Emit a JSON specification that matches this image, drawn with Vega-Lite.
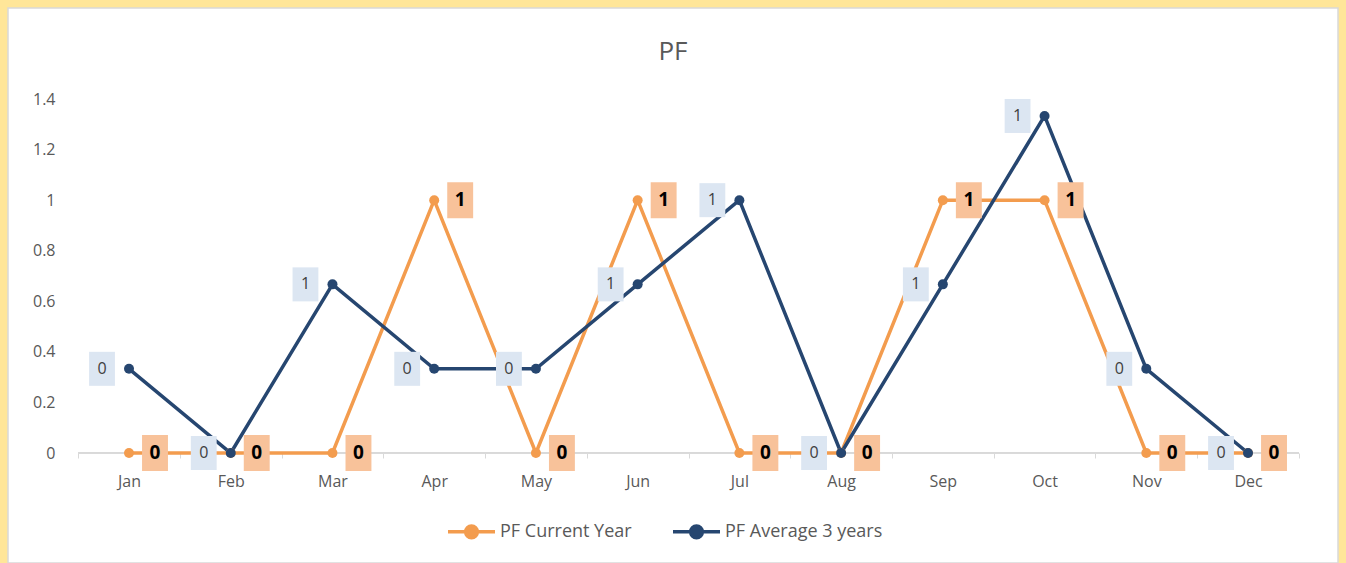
{
  "$schema": "https://vega.github.io/schema/vega-lite/v6.json",
  "width": 1330,
  "height": 555,
  "autosize": {"type": "none"},
  "padding": {"left": 8, "top": 8, "right": 8, "bottom": 0},
  "background": "#FFE699",
  "title": {"text": "PF", "fontSize": 26, "font": "Open Sans", "fontWeight": "normal", "color": "#595959", "anchor": "middle", "offset": -57},
  "config": {"view": {"fill": "white", "stroke": "#D9D9D9", "strokeWidth": 1.5}},
  "data": {"values": [
    {"month": "Jan", "series": "PF Current Year", "value": 0},
    {"month": "Feb", "series": "PF Current Year", "value": 0},
    {"month": "Mar", "series": "PF Current Year", "value": 0},
    {"month": "Apr", "series": "PF Current Year", "value": 1},
    {"month": "May", "series": "PF Current Year", "value": 0},
    {"month": "Jun", "series": "PF Current Year", "value": 1},
    {"month": "Jul", "series": "PF Current Year", "value": 0},
    {"month": "Aug", "series": "PF Current Year", "value": 0},
    {"month": "Sep", "series": "PF Current Year", "value": 1},
    {"month": "Oct", "series": "PF Current Year", "value": 1},
    {"month": "Nov", "series": "PF Current Year", "value": 0},
    {"month": "Dec", "series": "PF Current Year", "value": 0},
    {"month": "Jan", "series": "PF Average 3 years", "value": 0.333},
    {"month": "Feb", "series": "PF Average 3 years", "value": 0},
    {"month": "Mar", "series": "PF Average 3 years", "value": 0.667},
    {"month": "Apr", "series": "PF Average 3 years", "value": 0.333},
    {"month": "May", "series": "PF Average 3 years", "value": 0.333},
    {"month": "Jun", "series": "PF Average 3 years", "value": 0.667},
    {"month": "Jul", "series": "PF Average 3 years", "value": 1},
    {"month": "Aug", "series": "PF Average 3 years", "value": 0},
    {"month": "Sep", "series": "PF Average 3 years", "value": 0.667},
    {"month": "Oct", "series": "PF Average 3 years", "value": 1.333},
    {"month": "Nov", "series": "PF Average 3 years", "value": 0.333},
    {"month": "Dec", "series": "PF Average 3 years", "value": 0}
  ]},
  "encoding": {
    "x": {
      "field": "month", "type": "nominal",
      "sort": ["Jan","Feb","Mar","Apr","May","Jun","Jul","Aug","Sep","Oct","Nov","Dec"],
      "scale": {"type": "band", "paddingInner": 0, "paddingOuter": 0.537, "align": 0.642},
      "axis": {"title": null, "orient": "bottom", "offset": -110, "tickBand": "extent", "domain": false, "ticks": true, "tickColor": "#D9D9D9", "tickSize": 5, "labelColor": "#595959", "labelFont": "Open Sans", "labelFontSize": 16, "labelPadding": 15, "labelAngle": 0, "grid": false}
    },
    "y": {
      "field": "value", "type": "quantitative",
      "scale": {"domain": [-0.435, 1.76], "nice": false, "zero": false},
      "axis": {"title": null, "values": [0, 0.2, 0.4, 0.6, 0.8, 1, 1.2, 1.4], "offset": -51, "domain": false, "ticks": false, "grid": false, "labelColor": "#595959", "labelFont": "Open Sans", "labelFontSize": 16, "labelPadding": 4, "format": "~g"}
    }
  },
  "layer": [
    {
      "mark": {"type": "rule", "color": "#D9D9D9", "strokeWidth": 1},
      "encoding": {"x": {"datum": "Jan", "bandPosition": 0}, "x2": {"datum": "Dec", "bandPosition": 1}, "y": {"datum": 0}}
    },
    {
      "mark": {"type": "line", "strokeWidth": 3.5},
      "encoding": {
        "color": {"field": "series", "type": "nominal", "scale": {"domain": ["PF Current Year", "PF Average 3 years"], "range": ["#F39C4E", "#264670"]},
          "legend": {"title": null, "orient": "none", "legendX": 438, "legendY": 498, "direction": "horizontal", "symbolType": "M-1,0H1M-0.25,0A0.25,0.25,0,1,0,0.25,0A0.25,0.25,0,1,0,-0.25,0Z", "symbolSize": 2209, "symbolStrokeWidth": 3.5, "labelFont": "Open Sans", "labelFontSize": 18, "labelColor": "#595959", "columnPadding": 34, "labelOffset": 3,
            "encode": {"symbols": {"update": {"fill": {"scale": "color", "field": "value"}, "stroke": {"scale": "color", "field": "value"}, "strokeWidth": {"value": 3.5}, "opacity": {"value": 1}}}}}}
      }
    },
    {
      "mark": {"type": "point", "filled": true, "size": 100, "opacity": 1},
      "encoding": {
        "color": {"field": "series", "type": "nominal", "scale": {"domain": ["PF Current Year", "PF Average 3 years"], "range": ["#F39C4E", "#264670"]},
          "legend": {"title": null, "orient": "none", "legendX": 438, "legendY": 498, "direction": "horizontal", "symbolType": "M-1,0H1M-0.25,0A0.25,0.25,0,1,0,0.25,0A0.25,0.25,0,1,0,-0.25,0Z", "symbolSize": 2209, "symbolStrokeWidth": 3.5, "labelFont": "Open Sans", "labelFontSize": 18, "labelColor": "#595959", "columnPadding": 34, "labelOffset": 3,
            "encode": {"symbols": {"update": {"fill": {"scale": "color", "field": "value"}, "stroke": {"scale": "color", "field": "value"}, "strokeWidth": {"value": 3.5}, "opacity": {"value": 1}}}}}}
      }
    },
    {
      "transform": [{"filter": "datum.series === 'PF Current Year'"}],
      "mark": {"type": "point", "shape": "M-0.72,-1H0.72V1H-0.72Z", "size": 1296, "filled": true, "color": "#F8C29A", "opacity": 1, "xOffset": 26}
    },
    {
      "transform": [{"filter": "datum.series === 'PF Current Year'"}],
      "mark": {"type": "text", "font": "Open Sans", "fontWeight": "bold", "fontSize": 19, "color": "#000000", "xOffset": 26, "baseline": "middle", "align": "center"},
      "encoding": {"text": {"field": "value", "type": "quantitative", "format": ".0f"}}
    },
    {
      "transform": [{"filter": "datum.series === 'PF Average 3 years'"}],
      "mark": {"type": "point", "shape": "M-0.76,-1H0.76V1H-0.76Z", "size": 1156, "filled": true, "color": "#DCE6F2", "opacity": 1, "xOffset": -27}
    },
    {
      "transform": [{"filter": "datum.series === 'PF Average 3 years'"}],
      "mark": {"type": "text", "font": "Open Sans", "fontSize": 16, "color": "#404040", "xOffset": -27, "baseline": "middle", "align": "center"},
      "encoding": {"text": {"field": "value", "type": "quantitative", "format": ".0f"}}
    }
  ]
}
